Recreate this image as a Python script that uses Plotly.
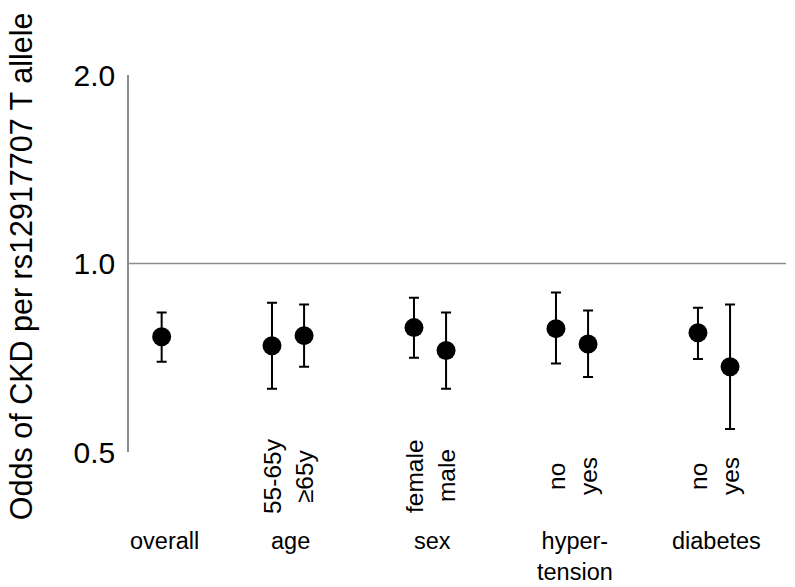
import plotly.graph_objects as go

# ---- data ----
groups = ["overall", "age", "sex", "hyper-<br>tension", "diabetes"]
subgroups = ["", "55-65y", "≥65y", "female", "male", "no", "yes", "no", "yes"]
subgroup_group = [0, 1, 1, 2, 2, 3, 3, 4, 4]
odds = [0.764, 0.739, 0.767, 0.790, 0.726, 0.787, 0.744, 0.775, 0.684]
ci_low = [0.697, 0.631, 0.684, 0.707, 0.631, 0.692, 0.659, 0.704, 0.544]
ci_high = [0.835, 0.866, 0.860, 0.882, 0.835, 0.899, 0.841, 0.850, 0.860]
y_ticks = [0.5, 1.0, 2.0]
y_ticktext = ["0.5", "1.0", "2.0"]

# ---- layout positions ----
group_pos = [0.11, 1, 2, 3, 4]
sub_offset = 0.113

xs = []
for i, g in enumerate(subgroup_group):
    members = [j for j, gg in enumerate(subgroup_group) if gg == g]
    if len(members) == 1:
        xs.append(group_pos[g])
    else:
        idx = members.index(i)
        xs.append(group_pos[g] + (-sub_offset if idx == 0 else sub_offset))

err_plus = [h - o for h, o in zip(ci_high, odds)]
err_minus = [o - l for o, l in zip(odds, ci_low)]

FONT = "Liberation Sans, Arial, Helvetica, sans-serif"

fig = go.Figure()
fig.add_trace(go.Scatter(
    x=xs, y=odds, mode="markers",
    marker=dict(size=19, color="black", line=dict(width=0)),
    error_y=dict(type="data", symmetric=False, array=err_plus, arrayminus=err_minus,
                 color="black", thickness=2, width=5),
    showlegend=False, hoverinfo="skip",
))

fig.add_shape(type="line", xref="paper", x0=0, x1=1, yref="y", y0=1.0, y1=1.0,
              line=dict(color="#8c8c8c", width=1.5), layer="below")

annotations = []
for x, s in zip(xs, subgroups):
    if s:
        annotations.append(dict(x=x, xref="x", y=-0.0637, yref="paper", text=s,
                                textangle=-90, showarrow=False, xanchor="center",
                                yanchor="middle", font=dict(size=24.5, color="black", family=FONT)))
for gx, g in zip(group_pos, groups):
    annotations.append(dict(x=gx + 0.02, xref="x", y=-0.195, yref="paper", text=g,
                            showarrow=False, xanchor="center", yanchor="top",
                            font=dict(size=23.5, color="black", family=FONT)))
annotations.append(dict(x=-0.1644, xref="paper", y=0.493, yref="paper",
                        text="Odds of CKD per rs12917707 T allele", textangle=-90,
                        showarrow=False, xanchor="center", yanchor="middle",
                        font=dict(size=30.5, color="black", family=FONT)))

fig.update_layout(
    width=795, height=587,
    margin=dict(l=129, r=9, t=75, b=135),
    paper_bgcolor="white", plot_bgcolor="white",
    annotations=annotations,
    font=dict(family=FONT, color="black"),
    xaxis=dict(range=[-0.12, 4.507], showgrid=False, zeroline=False,
               showticklabels=False, showline=False, ticks=""),
    yaxis=dict(type="log", range=[-0.30103, 0.30103], tickvals=y_ticks,
               ticktext=y_ticktext, showgrid=False, zeroline=False,
               showline=True, linecolor="#8c8c8c", linewidth=1.5, ticks="",
               ticklabelstandoff=6, tickfont=dict(size=30, color="black", family=FONT)),
)

fig.write_html("out.html", config={"displayModeBar": False},
               post_script="document.body.style.margin='0';document.body.style.overflow='hidden';")
